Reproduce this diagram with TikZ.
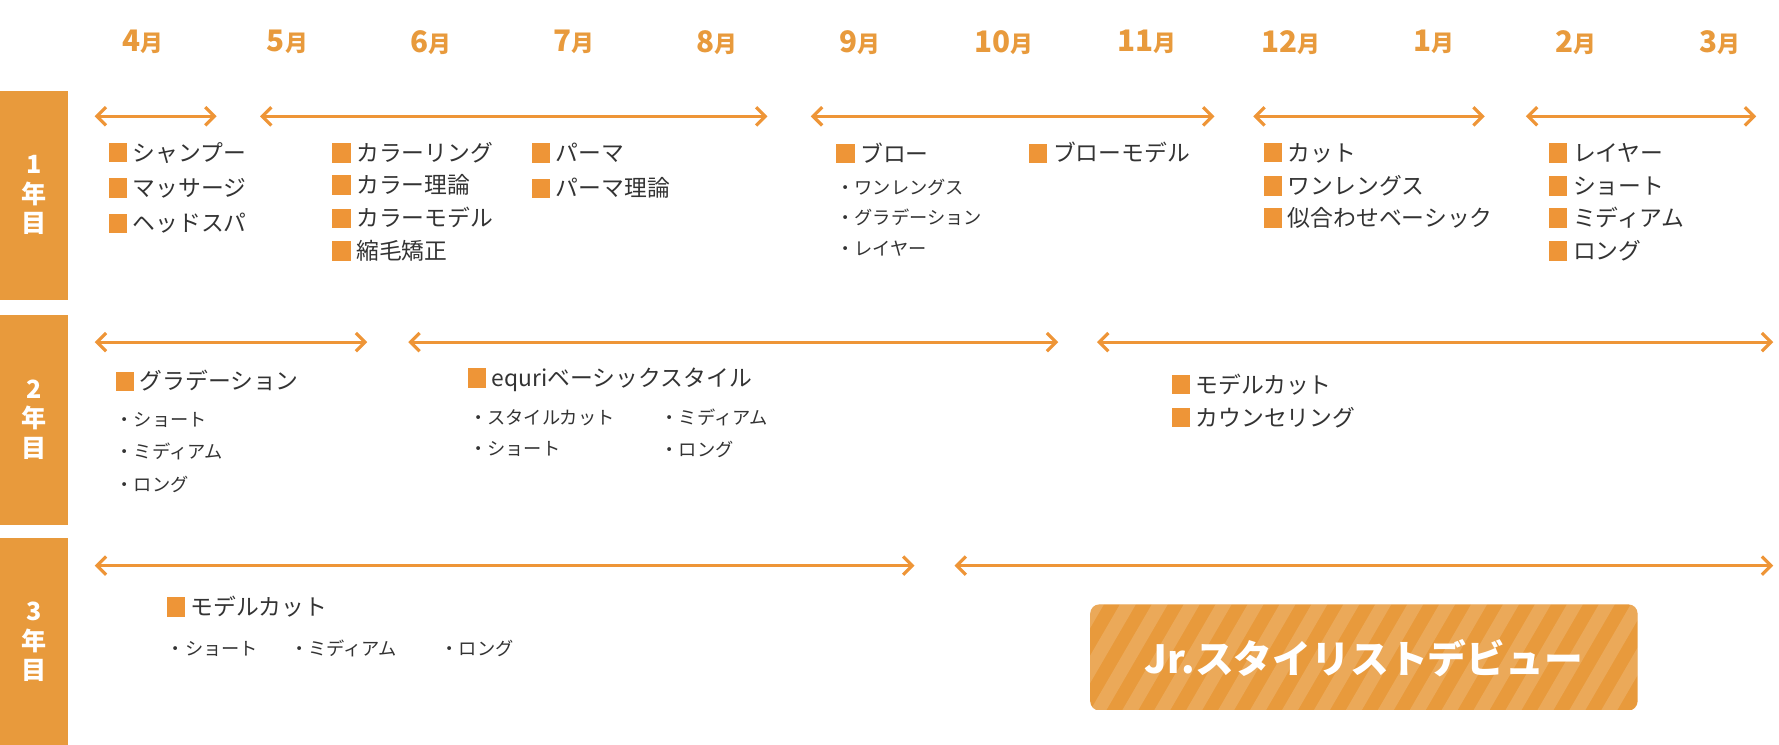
\documentclass[tikz,border=0pt]{standalone}
\usepackage{fontspec}
\setmainfont{Noto Sans CJK JP}
\usetikzlibrary{arrows.meta}
\definecolor{og}{HTML}{EE9537}
\definecolor{bar}{HTML}{E89A3C}
\definecolor{txt}{HTML}{333333}
\newcommand{\sqb}{{\color{og}\rule[-0.5pt]{8pt}{8.5pt}}\hspace{2.5pt}}
\tikzset{
 mon/.style={font=\fontsize{13}{13}\bfseries\selectfont, text=bar},
 item/.style={anchor=west, font=\fontsize{10}{10}\selectfont, text=txt, inner sep=0},
 sub/.style={anchor=west, font=\fontsize{8}{8}\selectfont, text=txt, inner sep=0},
 span/.style={draw=og, line width=1.4pt, {Straight Barb[length=4pt,width=8pt]}-{Straight Barb[length=4pt,width=8pt]}},
 yr/.style={fill=bar, draw=none},
 yrtxt/.style={text=white, font=\fontsize{11}{13}\bfseries\selectfont, align=center}
}
\begin{document}
\begin{tikzpicture}[x=0.5pt,y=-0.5pt]
\useasboundingbox (0,0) rectangle (1560,653);
% months
\foreach \n/\x/\t in {m4/125/4, m5/252/5, m6/378/6, m7/503/7, m8/629/8, m9/754/9, m10/880/10, m11/1006/11, m12/1132/12, m1/1257/1, m2/1382/2, m3/1508/3}
  \node[mon] (\n) at (\x,37) {\t{\fontsize{10}{10}\selectfont 月}};
% year bars
\fill[yr] (0,80) rectangle (60,263);
\fill[yr] (0,276) rectangle (60,460);
\fill[yr] (0,472) rectangle (60,655);
\node[yrtxt] (y1) at (30,171) {1\\年\\目};
\node[yrtxt] (y2) at (30,368) {2\\年\\目};
\node[yrtxt] (y3) at (30,563) {3\\年\\目};
% spans
\foreach \a/\b/\y/\n in {83/190/102/a, 228/673/102/b, 711/1065/102/c, 1099/1302/102/d, 1338/1540/102/e, 83/322/300/f, 358/928/300/g, 962/1555/300/h, 83/802/496/i, 837/1555/496/j}{
  \coordinate (\n1) at (\a,\y); \coordinate (\n2) at (\b,\y);
  \draw[span] (\n1) -- (\n2);}
% year 1
\node[item] (s1) at (95,134) {\sqb シャンプー};
\node[item] (s2) at (95,165) {\sqb マッサージ};
\node[item] (s3) at (95,196) {\sqb ヘッドスパ};
\node[item] (c1) at (291,134) {\sqb カラーリング};
\node[item] (c2) at (291,162) {\sqb カラー理論};
\node[item] (c3) at (291,191) {\sqb カラーモデル};
\node[item] (c4) at (291,220) {\sqb 縮毛矯正};
\node[item] (p1) at (466,134) {\sqb パーマ};
\node[item] (p2) at (466,165) {\sqb パーマ理論};
\node[item] (b1) at (733,134) {\sqb ブロー};
\node[sub] (b2) at (733,164) {・ワンレングス};
\node[sub] (b3) at (733,191) {・グラデーション};
\node[sub] (b4) at (733,218) {・レイヤー};
\node[item] (bm) at (902,134) {\sqb ブローモデル};
\node[item] (k1) at (1108,134) {\sqb カット};
\node[item] (k2) at (1108,163) {\sqb ワンレングス};
\node[item] (k3) at (1108,191) {\sqb 似合わせベーシック};
\node[item] (l1) at (1358,134) {\sqb レイヤー};
\node[item] (l2) at (1358,163) {\sqb ショート};
\node[item] (l3) at (1358,191) {\sqb ミディアム};
\node[item] (l4) at (1358,220) {\sqb ロング};
% year 2
\node[item] (g1) at (101,334) {\sqb グラデーション};
\node[sub] (g2) at (101,368) {・ショート};
\node[sub] (g3) at (101,396) {・ミディアム};
\node[sub] (g4) at (101,425) {・ロング};
\node[item] (e1) at (410,333) {\sqb equriベーシックスタイル};
\node[sub] (e2) at (411,366) {・スタイルカット};
\node[sub] (e3) at (411,394) {・ショート};
\node[sub] (e4) at (579,366) {・ミディアム};
\node[sub] (e5) at (579,394) {・ロング};
\node[item] (h1) at (1027,337) {\sqb モデルカット};
\node[item] (h2) at (1027,366) {\sqb カウンセリング};
% year 3
\node[item] (t1) at (146,532) {\sqb モデルカット};
\node[sub] (t2) at (146,569) {・ショート};
\node[sub] (t3) at (254,569) {・ミディアム};
\node[sub] (t4) at (386,569) {・ロング};
% debut box
\begin{scope}
\clip[rounded corners=4pt] (956,530) rectangle (1436,623);
\fill[bar] (956,530) rectangle (1436,623);
\foreach \i in {0,...,24}
  \fill[white, opacity=0.15] ({900+\i*28},623) -- ({914+\i*28},623) -- ({968+\i*28},530) -- ({954+\i*28},530) -- cycle;
\end{scope}
\node[text=white, font=\fontsize{17}{17}\bfseries\selectfont] (debut) at (1196,577) {Jr.スタイリストデビュー};
\end{tikzpicture}
\end{document}
